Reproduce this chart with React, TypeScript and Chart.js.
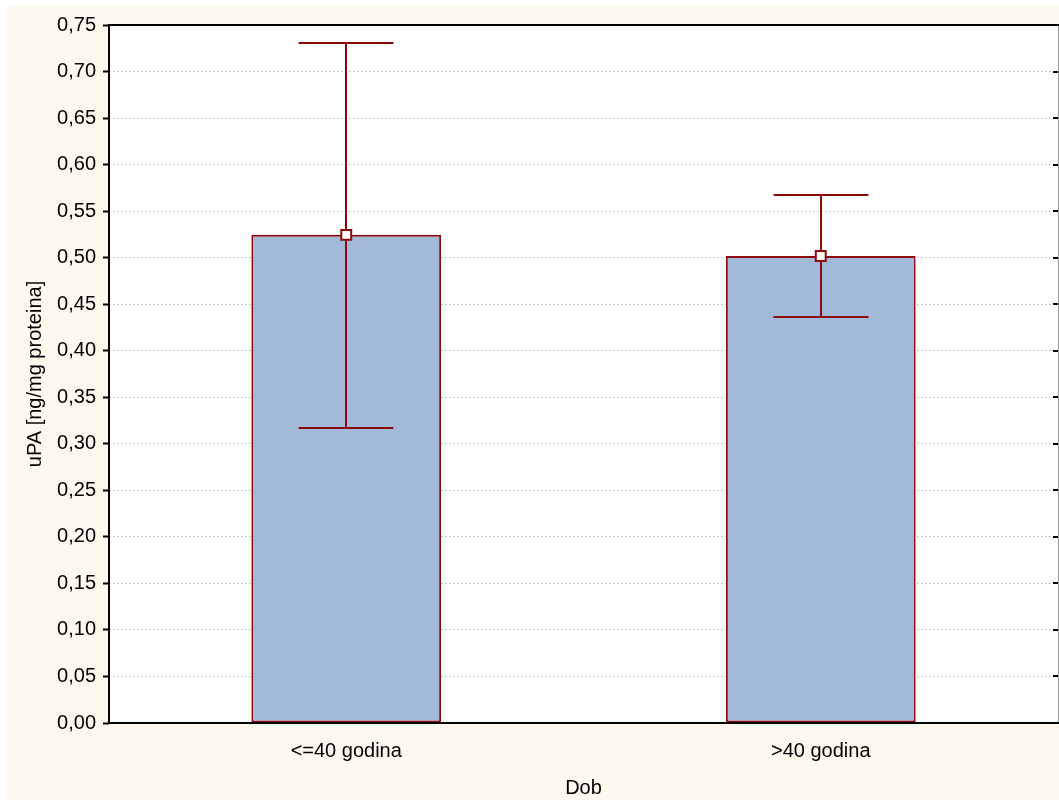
import React, { useEffect, useRef } from "react";
import { Chart, registerables } from "chart.js";

Chart.register(...registerables);

const categories = ["<=40 godina", ">40 godina"];
const means = [0.5245, 0.5018];
const upperValues = [0.7307, 0.5673];
const lowerValues = [0.3170, 0.4362];
const yTickValues = [0, 0.05, 0.1, 0.15, 0.2, 0.25, 0.3, 0.35, 0.4, 0.45, 0.5, 0.55, 0.6, 0.65, 0.7, 0.75];

const FONT = "'Liberation Sans', Arial, sans-serif";
const DARK_RED = "#8C0A0A";
const CREAM = "#FEF9EF";

const chartPlugin = {
  id: "statisticaStyle",
  beforeDraw(chart: any) {
    const { ctx, chartArea } = chart;
    ctx.save();
    ctx.fillStyle = CREAM;
    ctx.fillRect(0, 0, chart.width, chart.height);
    ctx.fillStyle = "#FFFFFF";
    ctx.fillRect(chartArea.left, chartArea.top, chartArea.right - chartArea.left, chartArea.bottom - chartArea.top);
    ctx.restore();
  },
  afterDatasetDraw(chart: any, args: any) {
    if (args.index !== 0) return;
    const { ctx } = chart;
    const y = chart.scales.y;
    const meta = chart.getDatasetMeta(0);
    ctx.save();
    ctx.strokeStyle = DARK_RED;
    ctx.lineWidth = 2;
    meta.data.forEach((bar: any, i: number) => {
      const x = Math.round(bar.x);
      const yHi = y.getPixelForValue(upperValues[i]);
      const yLo = y.getPixelForValue(lowerValues[i]);
      const half = bar.width / 4;
      ctx.beginPath();
      ctx.moveTo(x, yHi);
      ctx.lineTo(x, yLo);
      ctx.moveTo(x - half, yHi);
      ctx.lineTo(x + half, yHi);
      ctx.moveTo(x - half, yLo);
      ctx.lineTo(x + half, yLo);
      ctx.stroke();
    });
    ctx.restore();
  },
  afterDatasetsDraw(chart: any) {
    const { ctx, chartArea } = chart;
    const y = chart.scales.y;
    ctx.save();
    // right border and inner ticks
    ctx.strokeStyle = "#9A9A9A";
    ctx.lineWidth = 1;
    ctx.beginPath();
    ctx.moveTo(chartArea.right + 0.5, chartArea.top);
    ctx.lineTo(chartArea.right + 0.5, chartArea.bottom);
    ctx.stroke();
    ctx.strokeStyle = "#000000";
    ctx.lineWidth = 2;
    ctx.beginPath();
    y.ticks.forEach((t: any) => {
      const py = Math.round(y.getPixelForValue(t.value));
      ctx.moveTo(chartArea.right, py);
      ctx.lineTo(chartArea.right - 5, py);
    });
    ctx.stroke();
    // top, left and bottom borders
    ctx.strokeStyle = "#000000";
    ctx.lineWidth = 2;
    ctx.beginPath();
    ctx.moveTo(chartArea.left, chartArea.top);
    ctx.lineTo(chartArea.right + 1, chartArea.top);
    ctx.moveTo(chartArea.left, chartArea.top - 1);
    ctx.lineTo(chartArea.left, chartArea.bottom + 1);
    ctx.moveTo(chartArea.left - 1, chartArea.bottom);
    ctx.lineTo(chartArea.right + 1, chartArea.bottom);
    ctx.stroke();
    ctx.restore();
  },
};

export default function App() {
  const canvasRef = useRef<HTMLCanvasElement | null>(null);

  useEffect(() => {
    if (!canvasRef.current) return;
    const chart = new Chart(canvasRef.current, {
      type: "bar",
      data: {
        labels: categories,
        datasets: [
          {
            type: "bar",
            data: means,
            backgroundColor: "#A2BAD8",
            borderColor: DARK_RED,
            borderWidth: 2,
            borderSkipped: false,
            barPercentage: 0.4,
            categoryPercentage: 1,
            order: 2,
          } as any,
          {
            type: "line",
            data: means,
            showLine: false,
            pointStyle: "rect",
            pointRadius: 7,
            pointBackgroundColor: "#FFFFFF",
            pointBorderColor: DARK_RED,
            pointBorderWidth: 2,
            order: 1,
          } as any,
        ],
      },
      options: {
        animation: false,
        responsive: false,
        maintainAspectRatio: false,
        layout: { autoPadding: false, padding: { top: 19, right: 1, left: 0, bottom: 0 } },
        plugins: {
          legend: { display: false },
          tooltip: { enabled: false },
        },
        scales: {
          x: {
            type: "category",
            offset: true,
            grid: { display: false, drawTicks: false },
            border: { display: false },
            ticks: {
              color: "#000",
              font: { family: FONT, size: 20 },
              padding: 16,
            },
            title: {
              display: true,
              text: "Dob",
              color: "#000",
              font: { family: FONT, size: 20 },
              padding: { top: 3, bottom: 0 },
            },
            afterFit: (s: any) => {
              s.height = 77;
              s.paddingRight = 0;
              s.paddingLeft = 0;
            },
          },
          y: {
            type: "linear",
            min: 0,
            max: 0.75,
            afterBuildTicks: (s: any) => {
              s.ticks = yTickValues.map((v) => ({ value: v }));
            },
            grid: {
              color: "#C8C8C8",
              lineWidth: 1,
              tickColor: "#000",
              tickLength: 6,
              tickWidth: 2,
            },
            border: { display: false, dash: [2, 2] },
            ticks: {
              color: "#000",
              font: { family: FONT, size: 20 },
              padding: 7,
              callback: (v: any) => Number(v).toFixed(2).replace(".", ","),
            },
            title: {
              display: true,
              text: "uPA [ng/mg proteina]",
              color: "#000",
              font: { family: FONT, size: 20 },
              padding: { top: 16, bottom: 0 },
            },
            afterFit: (s: any) => {
              s.width = 102;
            },
          },
        },
      } as any,
      plugins: [chartPlugin],
    });
    return () => chart.destroy();
  }, []);

  return (
    <div style={{ position: "absolute", left: 7, top: 6, width: 1052, height: 794 }}>
      <canvas ref={canvasRef} width={1052} height={794} style={{ width: 1052, height: 794, display: "block" }} />
    </div>
  );
}
